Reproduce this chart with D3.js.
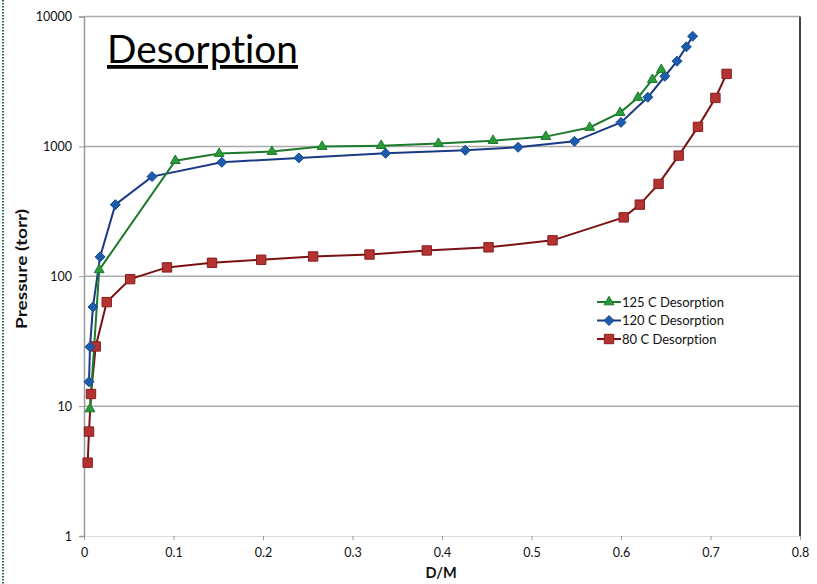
<!DOCTYPE html>
<html><head><meta charset="utf-8">
<script src="https://cdn.jsdelivr.net/npm/d3@7"></script>
<style>body{margin:0;background:#fff;} svg{display:block;font-family:Lato,"Open Sans",sans-serif;font-variant-ligatures:none;font-feature-settings:"liga" 0,"clig" 0;}</style>
</head><body>
<svg id="chart" width="817" height="584"></svg>
<script>
const seriesNames = ["125 C Desorption", "120 C Desorption", "80 C Desorption"];
const xTicks = [0, 0.1, 0.2, 0.3, 0.4, 0.5, 0.6, 0.7, 0.8];
const yTicks = [1, 10, 100, 1000, 10000];

const dm125 = [0.0067, 0.017, 0.102, 0.151, 0.210, 0.266, 0.332, 0.396, 0.457, 0.516, 0.565, 0.599, 0.619, 0.635, 0.645];
const p125  = [9.5, 112, 776, 880, 912, 996, 1013, 1050, 1107, 1189, 1397, 1820, 2378, 3268, 3890];

const dm120 = [0.0056, 0.0067, 0.010, 0.018, 0.035, 0.076, 0.154, 0.240, 0.337, 0.426, 0.485, 0.548, 0.600, 0.630, 0.649, 0.6626, 0.673, 0.680];
const p120  = [15.4, 28.6, 58, 141, 356, 585, 754, 815, 885, 933, 984, 1094, 1530, 2388, 3467, 4530, 5840, 7050];

const dm80 = [0.0041, 0.0056, 0.0078, 0.0131, 0.0254, 0.0516, 0.0927, 0.143, 0.198, 0.256, 0.319, 0.383, 0.452, 0.5235, 0.603, 0.621, 0.642, 0.6645, 0.686, 0.7055, 0.718];
const p80  = [3.67, 6.37, 12.4, 28.8, 63.2, 95, 117, 127, 134, 142, 147, 158, 167, 189, 284, 356, 514, 849, 1413, 2361, 3616];

const svg = d3.select("#chart");
const L = 84, R = 800, T = 16.5, B = 536;
const x = d3.scaleLinear().domain([0, 0.8]).range([L, R]);
const y = d3.scaleLog().domain([1, 10000]).range([B, T]);

// left dotted border
svg.append("line").attr("x1",3).attr("x2",3).attr("y1",0).attr("y2",584)
  .attr("stroke","#1e6e50").attr("stroke-width",2).attr("stroke-dasharray","1.5,1.5");

// gridlines
svg.append("g").selectAll("line").data(yTicks.slice(1)).join("line")
  .attr("x1", L).attr("x2", R).attr("y1", d=>y(d)).attr("y2", d=>y(d))
  .attr("stroke", "#ababab").attr("stroke-width", 1.5);

// y axis
const yAxis = svg.append("g").attr("transform", `translate(${L},0)`)
  .call(d3.axisLeft(y).tickValues(yTicks).tickFormat(d3.format("d")).tickSize(5).tickPadding(7));
yAxis.select(".domain").attr("stroke","#9a9a9a").attr("stroke-width",1.5);
yAxis.selectAll(".tick line").attr("stroke","#9a9a9a");
yAxis.selectAll("text").attr("font-size",12.5).attr("fill","#111").attr("font-family","Lato,sans-serif");

// x axis
const xAxis = svg.append("g").attr("transform", `translate(0,${B})`)
  .call(d3.axisBottom(x).tickValues(xTicks).tickFormat(d=>d===0?"0":d3.format(".1f")(d)).tickSize(4).tickPadding(8));
xAxis.select(".domain").attr("stroke","#dcdcdc").attr("stroke-width",1);
xAxis.selectAll(".tick line").attr("stroke","#9a9a9a");
xAxis.selectAll("text").attr("font-size",12.5).attr("fill","#111").attr("font-family","Lato,sans-serif");

// right dark border
svg.append("line").attr("x1",R).attr("x2",R).attr("y1",T).attr("y2",B).attr("stroke","#444").attr("stroke-width",2);

// axis titles
svg.append("text").attr("x", 441).attr("y", 578).attr("text-anchor","middle")
  .attr("font-size",14.5).attr("font-weight","bold").attr("fill","#111").text("D/M");
svg.append("text").attr("transform","translate(27,269) rotate(-90)").attr("text-anchor","middle")
  .attr("font-size",15).attr("font-weight","bold").attr("fill","#111")
  .attr("textLength",120).attr("lengthAdjust","spacingAndGlyphs").text("Pressure (torr)");

// title
svg.append("text").attr("x",107).attr("y",63).attr("font-size",38).attr("fill","#000")
  .attr("text-decoration","underline").attr("textLength",191).attr("lengthAdjust","spacingAndGlyphs").text("Desorption");

const diamond = {draw(ctx, size){ const r = Math.sqrt(size/2); ctx.moveTo(0,-r); ctx.lineTo(r,0); ctx.lineTo(0,r); ctx.lineTo(-r,0); ctx.closePath(); }};

const series = [
  {name: seriesNames[0], xs: dm125, ys: p125, line: "#1d7a2c", fill: "#2a9a3a", stroke:"#1d7a2c", shape: d3.symbolTriangle, size: 42},
  {name: seriesNames[1], xs: dm120, ys: p120, line: "#1a3a85", fill: "#1d5cab", stroke:"#17488f", shape: diamond, size: 50},
  {name: seriesNames[2], xs: dm80, ys: p80, line: "#7a1212", fill: "#b33232", stroke:"#8a1c1c", shape: d3.symbolSquare, size: 88}
];

const lineGen = d3.line().x(d=>x(d[0])).y(d=>y(d[1]));
const order = [2,1,0];
order.forEach(i=>{
  const s = series[i];
  const pts = s.xs.map((v,j)=>[v, s.ys[j]]);
  svg.append("path").datum(pts).attr("d", lineGen).attr("fill","none")
    .attr("stroke", s.line).attr("stroke-width", 2);
});
order.forEach(i=>{
  const s = series[i];
  const pts = s.xs.map((v,j)=>[v, s.ys[j]]);
  svg.append("g").selectAll("path").data(pts).join("path")
    .attr("transform", d=>`translate(${x(d[0])},${y(d[1])})`)
    .attr("d", d3.symbol().type(s.shape).size(s.size))
    .attr("fill", s.fill).attr("stroke", s.stroke).attr("stroke-width",1);
});

// legend
const lg = svg.append("g");
series.forEach((s,i)=>{
  const yy = 302 + i*18.5;
  lg.append("line").attr("x1",597).attr("x2",621).attr("y1",yy).attr("y2",yy).attr("stroke",s.line).attr("stroke-width",2);
  lg.append("path").attr("transform",`translate(609,${yy})`).attr("d", d3.symbol().type(s.shape).size(s.size))
    .attr("fill", s.fill).attr("stroke", s.stroke).attr("stroke-width",1);
  lg.append("text").attr("x",622).attr("y",yy+4.5).attr("font-size",13).attr("fill","#111").text(s.name);
});
</script>
</body></html>
